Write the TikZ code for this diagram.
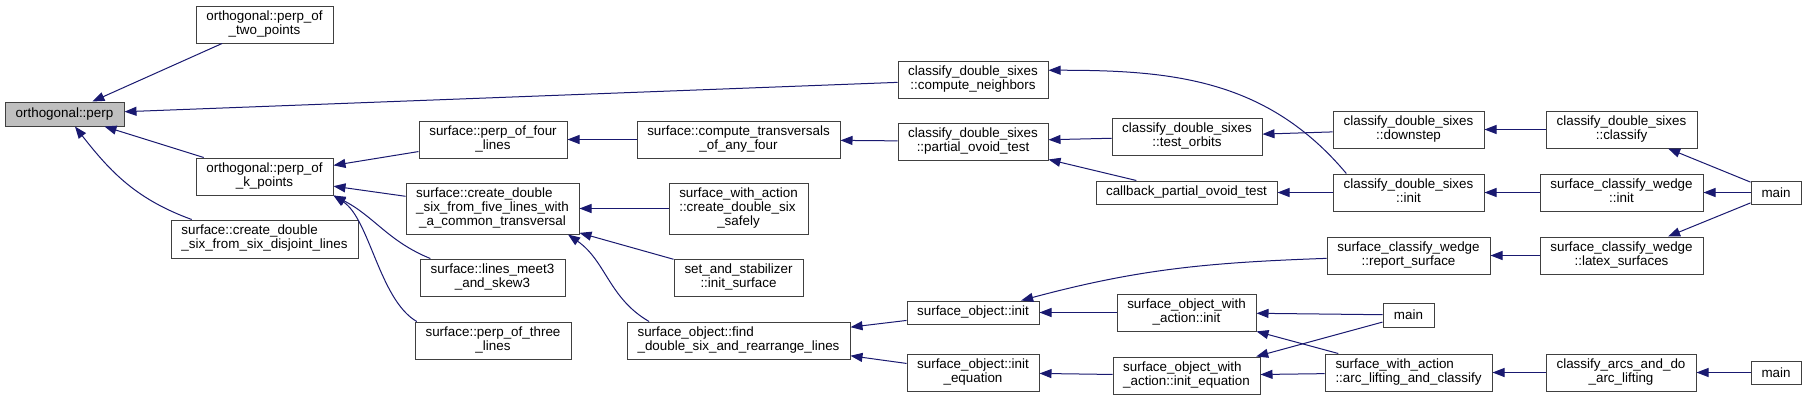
\documentclass[tikz,border=0pt]{standalone}
\usepackage{fontspec}
\setmainfont{Liberation Sans}
\usetikzlibrary{arrows.meta}
\definecolor{edgec}{HTML}{191970}
\definecolor{boxc}{HTML}{404040}
\definecolor{hlc}{HTML}{BFBFBF}
\newcommand\lbtwo[2]{\begin{tabular}{@{}l@{}}#1\\\multicolumn{1}{@{}c@{}}{#2}\end{tabular}}
\newcommand\lbthree[3]{\begin{tabular}{@{}l@{}}#1\\#2\\\multicolumn{1}{@{}c@{}}{#3}\end{tabular}}
\begin{document}
\begin{tikzpicture}[x=1pt,y=1pt,
  box/.style={draw=boxc, line width=1pt, fill=white, inner sep=0pt, font=\fontsize{13.4}{13.5}\selectfont},
  hbox/.style={box, fill=hlc},
  edge/.style={draw=edgec, line width=1pt, -{Triangle[length=12pt,width=9pt]}}]
\fill[white] (0,0) rectangle (1807,-400);
\useasboundingbox (0,0) rectangle (1807,-400);
% column 1
\node[hbox, minimum width=119, minimum height=24] (perp) at (64.5,-114) {orthogonal::perp};
% column 2
\node[box, minimum width=137, minimum height=37] (ptp) at (264.5,-24.5) {\lbtwo{orthogonal::perp\_of}{\_two\_points}};
\node[box, minimum width=137, minimum height=37] (pkp) at (264.5,-176.5) {\lbtwo{orthogonal::perp\_of}{\_k\_points}};
\node[box, minimum width=187, minimum height=38] (cdsix) at (264.5,-239) {\lbtwo{surface::create\_double}{\_six\_from\_six\_disjoint\_lines}};
% column 3
\node[box, minimum width=148, minimum height=37] (pfour) at (493,-139.5) {\lbtwo{surface::perp\_of\_four}{\_lines}};
\node[box, minimum width=173, minimum height=51] (cdfive) at (492.5,-208.5) {\lbthree{surface::create\_double}{\_six\_from\_five\_lines\_with}{\_a\_common\_transversal}};
\node[box, minimum width=145, minimum height=37] (lm) at (492.5,-277.5) {\lbtwo{surface::lines\_meet3}{\_and\_skew3}};
\node[box, minimum width=156, minimum height=37] (pthree) at (493,-340.5) {\lbtwo{surface::perp\_of\_three}{\_lines}};
% column 4
\node[box, minimum width=203, minimum height=37] (ct) at (738.5,-139.5) {\lbtwo{surface::compute\_transversals}{\_of\_any\_four}};
\node[box, minimum width=139, minimum height=51] (safe) at (738.5,-208.5) {\lbthree{surface\_with\_action}{::create\_double\_six}{\_safely}};
\node[box, minimum width=129, minimum height=37] (sas) at (738.5,-277.5) {\lbtwo{set\_and\_stabilizer}{::init\_surface}};
\node[box, minimum width=223, minimum height=37] (find) at (738.5,-340.5) {\lbtwo{surface\_object::find}{\_double\_six\_and\_rearrange\_lines}};
% column 5
\node[box, minimum width=150, minimum height=37] (cn) at (973,-79.5) {\lbtwo{classify\_double\_sixes}{::compute\_neighbors}};
\node[box, minimum width=150, minimum height=37] (pot) at (973,-141.5) {\lbtwo{classify\_double\_sixes}{::partial\_ovoid\_test}};
\node[box, minimum width=132, minimum height=23] (soinit) at (973,-312.5) {surface\_object::init};
\node[box, minimum width=132, minimum height=37] (soie) at (973,-372.5) {\lbtwo{surface\_object::init}{\_equation}};
% column 6
\node[box, minimum width=150, minimum height=37] (torb) at (1187,-136.5) {\lbtwo{classify\_double\_sixes}{::test\_orbits}};
\node[box, minimum width=181, minimum height=23] (cb) at (1186.5,-192.5) {callback\_partial\_ovoid\_test};
\node[box, minimum width=139, minimum height=37] (swinit) at (1186.5,-312.5) {\lbtwo{surface\_object\_with}{\_action::init}};
\node[box, minimum width=147, minimum height=37] (swie) at (1186.5,-375.5) {\lbtwo{surface\_object\_with}{\_action::init\_equation}};
% column 7
\node[box, minimum width=151, minimum height=37] (ds) at (1408.5,-129.5) {\lbtwo{classify\_double\_sixes}{::downstep}};
\node[box, minimum width=151, minimum height=37] (cdinit) at (1408.5,-192.5) {\lbtwo{classify\_double\_sixes}{::init}};
\node[box, minimum width=163, minimum height=37] (rs) at (1408.5,-255.5) {\lbtwo{surface\_classify\_wedge}{::report\_surface}};
\node[box, minimum width=51, minimum height=24] (mainb) at (1408.5,-315) {main};
\node[box, minimum width=167, minimum height=37] (alc) at (1408.5,-372.5) {\lbtwo{surface\_with\_action}{::arc\_lifting\_and\_classify}};
% column 8
\node[box, minimum width=151, minimum height=37] (cl) at (1621.5,-129.5) {\lbtwo{classify\_double\_sixes}{::classify}};
\node[box, minimum width=163, minimum height=37] (swinitw) at (1621.5,-192.5) {\lbtwo{surface\_classify\_wedge}{::init}};
\node[box, minimum width=163, minimum height=37] (latex) at (1621.5,-255.5) {\lbtwo{surface\_classify\_wedge}{::latex\_surfaces}};
\node[box, minimum width=150, minimum height=37] (cadal) at (1621,-372.5) {\lbtwo{classify\_arcs\_and\_do}{\_arc\_lifting}};
% column 9
\node[box, minimum width=50, minimum height=23] (maina) at (1776,-192.5) {main};
\node[box, minimum width=50, minimum height=23] (mainc) at (1776,-372.5) {main};
% edges
\draw[edge] (ptp) -- (perp);
\draw[edge] (cn) -- (perp);
\draw[edge] (pkp) -- (perp);
\draw[edge] (cdsix.165) to[out=160,in=-52] (perp.-50);
\draw[edge] (pfour) -- (pkp);
\draw[edge] (cdfive) -- (pkp);
\draw[edge] (lm.163) to[out=158,in=-27] (pkp.south east);
\draw[edge] (pthree.166) to[out=150,in=-33,looseness=0.73] (pkp.south east);
\draw[edge] (ct) -- (pfour);
\draw[edge] (pot) -- (ct);
\draw[edge] (torb) -- (pot);
\draw[edge] (cb) -- (pot);
\draw[edge] (ds) -- (torb);
\draw[edge] (cl) -- (ds);
\draw[edge] (maina) -- (cl);
\draw[edge] (cdinit.163) to[out=130,in=0] (cn.7);
\draw[edge] (cdinit) -- (cb);
\draw[edge] (swinitw) -- (cdinit);
\draw[edge] (maina) -- (swinitw);
\draw[edge] (maina) -- (latex);
\draw[edge] (safe) -- (cdfive);
\draw[edge] (sas) -- (cdfive);
\draw[edge] (find.168) to[out=150,in=-35] (cdfive.-19);
\draw[edge] (soinit) -- (find);
\draw[edge] (soie) -- (find);
\draw[edge] (swinit) -- (soinit);
\draw[edge] (rs.182) to[out=182,in=15] (soinit.14);
\draw[edge] (swie) -- (soie);
\draw[edge] (mainb) -- (swinit);
\draw[edge] (alc) -- (swinit);
\draw[edge] (mainb) -- (swie);
\draw[edge] (alc) -- (swie);
\draw[edge] (latex) -- (rs);
\draw[edge] (cadal) -- (alc);
\draw[edge] (mainc) -- (cadal);
\end{tikzpicture}
\end{document}
